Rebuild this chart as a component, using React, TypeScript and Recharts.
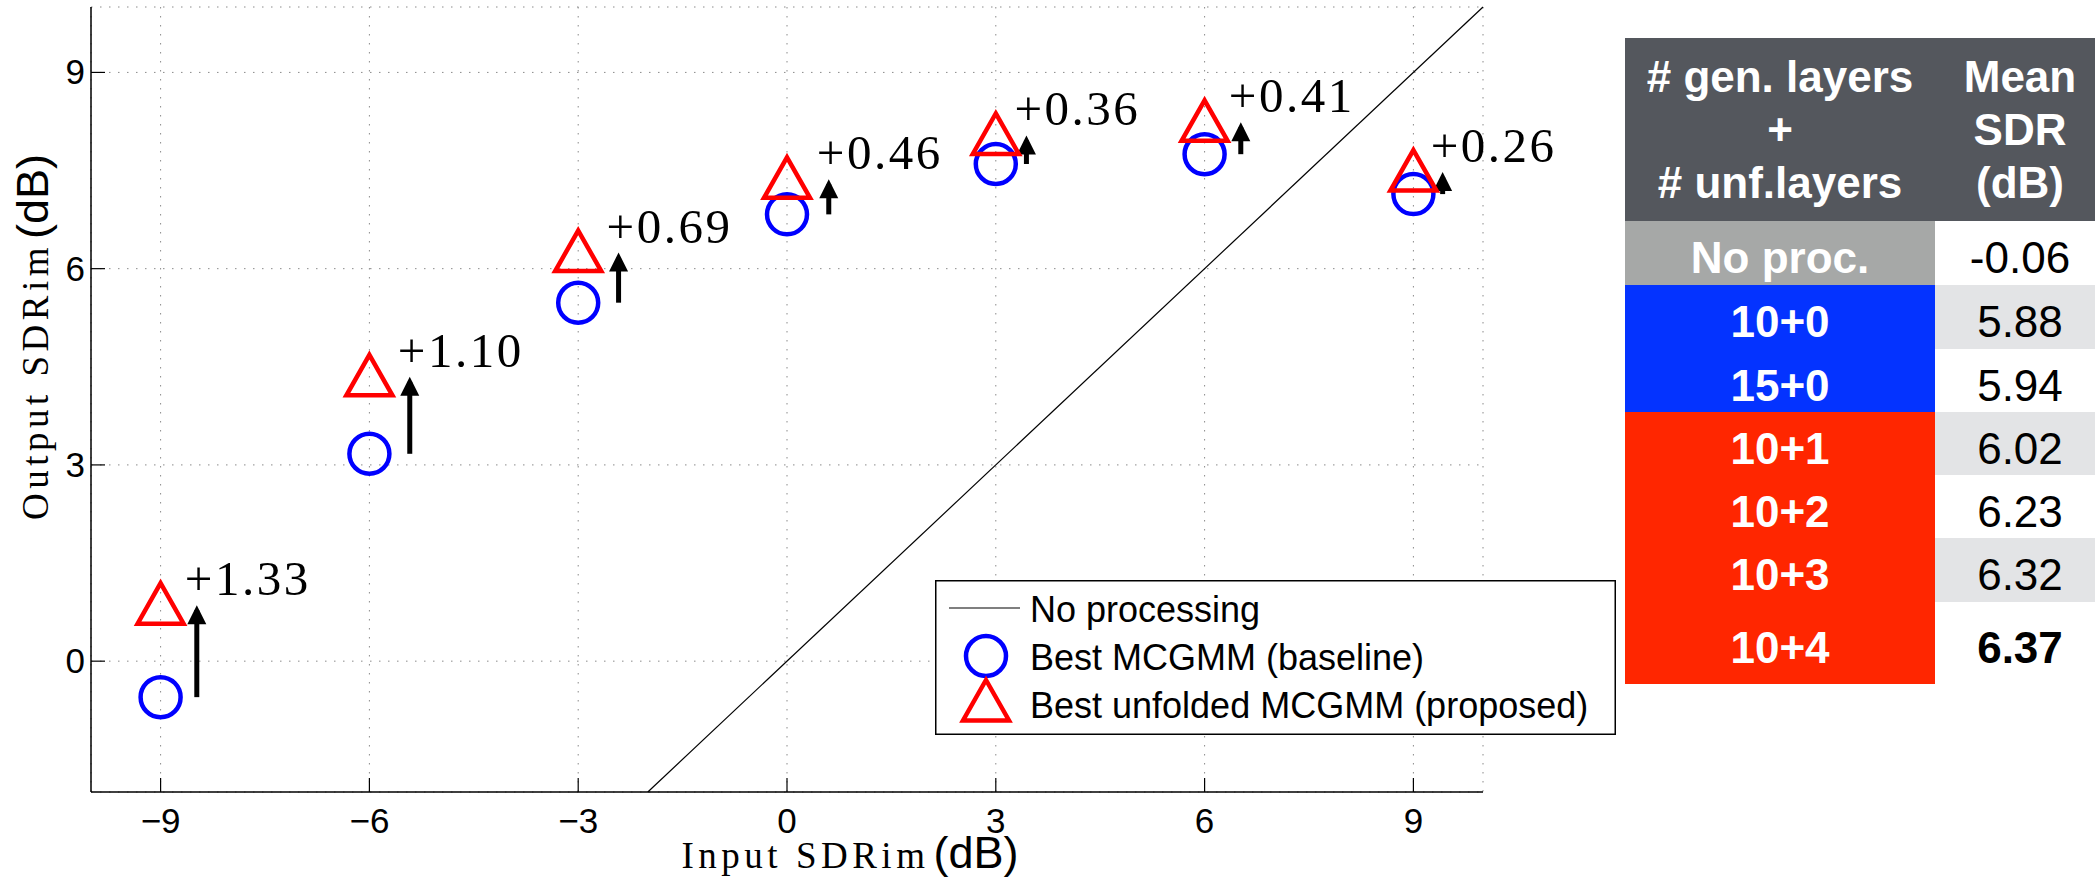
import React from 'react';
import { ComposedChart, Scatter, XAxis, YAxis, CartesianGrid, Legend } from 'recharts';

const SANS = '"Liberation Sans", Arial, Helvetica, sans-serif';
const SERIF = '"Liberation Serif", "Times New Roman", serif';

// values
const inputSdr = [-9, -6, -3, 0, 3, 6, 9];
const baselineSdr = [-0.55, 3.17, 5.48, 6.83, 7.6, 7.75, 7.14];
const proposedSdr = [0.78, 4.27, 6.17, 7.29, 7.96, 8.16, 7.4];
const gainLabels = ['+1.33', '+1.10', '+0.69', '+0.46', '+0.36', '+0.41', '+0.26'];
const arrowX = [-8.48, -5.42, -2.42, 0.6, 3.44, 6.52, 9.42];
const noProcSdr = [-2, 10];
const xTicks = [-9, -6, -3, 0, 3, 6, 9];
const yTicks = [0, 3, 6, 9];
const seriesNames = ['No processing', 'Best MCGMM (baseline)', 'Best unfolded MCGMM (proposed)'];

// table on the right
const headLeft = ['# gen. layers', '+', '# unf.layers'];
const headRight = ['Mean', 'SDR', '(dB)'];
const tableLayers = ['No proc.', '10+0', '15+0', '10+1', '10+2', '10+3', '10+4'];
const tableGroups = ['none', 'baseline', 'baseline', 'unfolded', 'unfolded', 'unfolded', 'unfolded'];
const tableMeanSdr = ['-0.06', '5.88', '5.94', '6.02', '6.23', '6.32', '6.37'];

const groupColors: Record<string, string> = {
  none: '#a6a8a7',
  baseline: '#0433ff',
  unfolded: '#ff2600',
};
const rowHeights = [64, 64, 63, 63, 63, 64, 82];

const noProcData = noProcSdr.map((v) => ({ x: v, y: v }));
const baselineData = inputSdr.map((x, i) => ({ x, y: baselineSdr[i] }));
const proposedData = inputSdr.map((x, i) => ({ x, y: proposedSdr[i] }));
const arrowData = arrowX.map((x, i) => [
  { x, y: baselineSdr[i] },
  { x, y: proposedSdr[i], label: gainLabels[i] },
]);

const TICK = 14;
const fmt = (v: number) => (v < 0 ? '\u2212' + Math.abs(v) : String(v));

const BottomTick = ({ x, y, payload }: any) => (
  <g>
    <line x1={x} y1={y} x2={x} y2={y - TICK} stroke="#000" strokeWidth={1.2} />
    <text x={x} y={y + 41} textAnchor="middle" fontFamily={SANS} fontSize={35} fill="#000">
      {fmt(payload.value)}
    </text>
  </g>
);
const LeftTick = ({ x, y, payload }: any) => (
  <g>
    <line x1={x} y1={y} x2={x + TICK} y2={y} stroke="#000" strokeWidth={1.2} />
    <text x={x - 6} y={y + 12} textAnchor="end" fontFamily={SANS} fontSize={35} fill="#000">
      {fmt(payload.value)}
    </text>
  </g>
);
const TopTick = ({ x, y }: any) => (
  <line x1={x} y1={y} x2={x} y2={y + TICK} stroke="#000" strokeWidth={1.2} />
);
const RightTick = ({ x, y }: any) => (
  <line x1={x} y1={y} x2={x - TICK} y2={y} stroke="#000" strokeWidth={1.2} />
);

const Ring = ({ cx, cy }: any) => (
  <circle cx={cx} cy={cy} r={20} fill="none" stroke="#0000ff" strokeWidth={4.5} />
);
const Triangle = ({ cx, cy }: any) => (
  <path
    d={`M${cx},${cy - 27} L${cx + 23},${cy + 13.5} L${cx - 23},${cy + 13.5} Z`}
    fill="none"
    stroke="#ff0000"
    strokeWidth={4.5}
    strokeLinejoin="miter"
  />
);
const ArrowHead = ({ cx, cy, payload }: any) => {
  if (!payload || !payload.label) return <g />;
  return (
    <g>
      <polygon points={`${cx},${cy - 5} ${cx - 9.5},${cy + 14} ${cx + 9.5},${cy + 14}`} fill="#000" />
      <text x={cx - 12} y={cy - 15} fontFamily={SERIF} fontSize={49} letterSpacing={2.5} fill="#000">
        {payload.label}
      </text>
    </g>
  );
};

const XTitle = () => (
  <text x={850} y={868} textAnchor="middle" fill="#000">
    <tspan fontFamily={SERIF} fontSize={37} letterSpacing={4.5}>Input SDRim</tspan>
    <tspan fontFamily={SANS} fontSize={45} dx={4}>(dB)</tspan>
  </text>
);
const YTitle = () => (
  <text transform="translate(48,337) rotate(-90)" textAnchor="middle" fill="#000">
    <tspan fontFamily={SERIF} fontSize={37} letterSpacing={4.5}>Output SDRim</tspan>
    <tspan fontFamily={SANS} fontSize={45} dx={4}>(dB)</tspan>
  </text>
);

const LegendBox = () => (
  <svg width={681} height={155} style={{ display: 'block' }}>
    <rect x={0.75} y={0.75} width={679.5} height={153.5} fill="#fff" stroke="#000" strokeWidth={1.5} />
    <line x1={14} y1={28} x2={85} y2={28} stroke="#000" strokeWidth={1.2} />
    <Ring cx={51} cy={76} />
    <Triangle cx={51} cy={127} />
    {seriesNames.map((name, i) => (
      <text key={name} x={95} y={42 + i * 48} fontFamily={SANS} fontSize={36} fill="#000">
        {name}
      </text>
    ))}
  </svg>
);

const ResultTable = () => {
  const best = tableMeanSdr.indexOf(
    tableMeanSdr.reduce((a, b) => (parseFloat(b) > parseFloat(a) ? b : a))
  );
  let top = 221;
  const rows = tableLayers.map((layers, i) => {
    const h = rowHeights[i];
    const y = top;
    top += h;
    const base = y + h / 2 + 20;
    return (
      <g key={layers}>
        <rect x={0} y={y} width={310} height={h} fill={groupColors[tableGroups[i]]} />
        <rect x={310} y={y} width={170} height={h} fill={i % 2 === 1 ? '#e3e4e6' : '#fff'} />
        <text x={155} y={base} textAnchor="middle" fontFamily={SANS} fontSize={44} fontWeight="bold" fill="#fff">
          {layers}
        </text>
        <text
          x={395}
          y={base}
          textAnchor="middle"
          fontFamily={SANS}
          fontSize={44}
          fontWeight={i === best ? 'bold' : 'normal'}
          fill="#000"
        >
          {tableMeanSdr[i]}
        </text>
      </g>
    );
  });
  return (
    <svg width={470} height={879} style={{ position: 'absolute', left: 1625, top: 0 }}>
      <rect x={0} y={38} width={480} height={183} fill="#54575d" />
      {headLeft.map((t, i) => (
        <text key={t} x={155} y={92 + i * 53} textAnchor="middle" fontFamily={SANS} fontSize={44} fontWeight="bold" fill="#fff">
          {t}
        </text>
      ))}
      {headRight.map((t, i) => (
        <text key={t} x={395} y={92 + i * 53} textAnchor="middle" fontFamily={SANS} fontSize={44} fontWeight="bold" fill="#fff">
          {t}
        </text>
      ))}
      {rows}
    </svg>
  );
};

export default function App() {
  return (
    <div style={{ position: 'absolute', left: 0, top: 0, width: 2095, height: 879, background: '#fff', overflow: 'hidden' }}>
      <ComposedChart width={1620} height={879} margin={{ top: 7, right: 137, bottom: 0, left: 0 }}>
        <CartesianGrid stroke="#8a8a8a" strokeDasharray="1.5 7.5" strokeWidth={1} />
        <XAxis
          dataKey="x"
          type="number"
          domain={[-10, 10]}
          ticks={xTicks}
          interval={0}
          height={87}
          tickSize={0}
          tickMargin={0}
          tickLine={false}
          tick={<BottomTick />}
          axisLine={{ stroke: '#000', strokeWidth: 1.5 }}
          label={<XTitle />}
        />
        <XAxis
          xAxisId="top"
          orientation="top"
          dataKey="x"
          type="number"
          domain={[-10, 10]}
          ticks={xTicks}
          interval={0}
          height={0}
          tickSize={0}
          tickMargin={0}
          tickLine={false}
          tick={<TopTick />}
          axisLine={{ stroke: '#000', strokeWidth: 1.5 }}
        />
        <YAxis
          dataKey="y"
          type="number"
          domain={[-2, 10]}
          ticks={yTicks}
          interval={0}
          width={91}
          tickSize={0}
          tickMargin={0}
          tickLine={false}
          tick={<LeftTick />}
          axisLine={{ stroke: '#000', strokeWidth: 1.5 }}
          label={<YTitle />}
        />
        <YAxis
          yAxisId="right"
          orientation="right"
          dataKey="y"
          type="number"
          domain={[-2, 10]}
          ticks={yTicks}
          interval={0}
          width={0}
          tickSize={0}
          tickMargin={0}
          tickLine={false}
          tick={<RightTick />}
          axisLine={{ stroke: '#000', strokeWidth: 1.5 }}
        />
        <Scatter
          name={seriesNames[0]}
          data={noProcData}
          line={{ stroke: '#000', strokeWidth: 1.2 }}
          shape={() => <g />}
          isAnimationActive={false}
        />
        {arrowData.map((d, i) => (
          <Scatter
            key={`arrow-${i}`}
            data={d}
            fill="#000"
            line={{ stroke: '#000', strokeWidth: 5 }}
            shape={<ArrowHead />}
            legendType="none"
            isAnimationActive={false}
          />
        ))}
        <Scatter name={seriesNames[1]} data={baselineData} shape={<Ring />} isAnimationActive={false} />
        <Scatter name={seriesNames[2]} data={proposedData} shape={<Triangle />} isAnimationActive={false} />
        <Legend
          layout="vertical"
          align="center"
          verticalAlign="middle"
          content={() => <LegendBox />}
          wrapperStyle={{ position: 'absolute', left: 935, top: 580, width: 681, height: 155 }}
        />
      </ComposedChart>
      <ResultTable />
    </div>
  );
}
